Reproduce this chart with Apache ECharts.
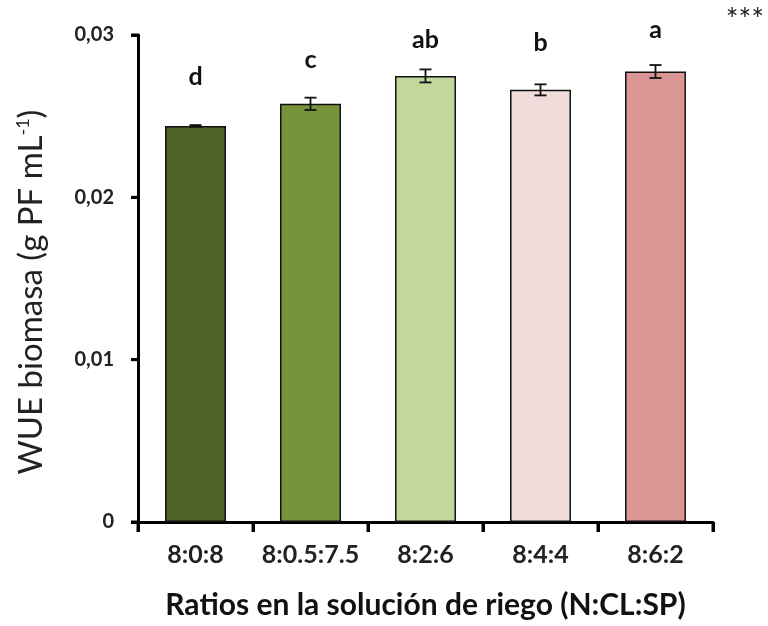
<!DOCTYPE html>
<html><head><meta charset="utf-8">
<script src="https://cdn.jsdelivr.net/npm/echarts@6/dist/echarts.min.js"></script>
<style>html,body{margin:0;padding:0;background:#fff}#c{width:768px;height:626px}</style>
</head><body><div id="c"></div>
<script>
const categories = ['8:0:8', '8:0.5:7.5', '8:2:6', '8:4:4', '8:6:2'];
const values = [0.02440, 0.02576, 0.02748, 0.02662, 0.02775];
const errors = [0.00005, 0.00038, 0.00040, 0.00034, 0.00040];
const letters = ['d', 'c', 'ab', 'b', 'a'];
const letterPos = [0.0274, 0.02846, 0.0297, 0.0295, 0.0303];
const colors = ['#4f6228', '#77933c', '#c4d79b', '#f2dcdb', '#da9694'];
const yTicks = [0, 0.01, 0.02, 0.03];

const chart = echarts.init(document.getElementById('c'), null, {renderer: 'canvas'});
const font = 'Lato, "Open Sans", sans-serif';
const baseGraphic = [
  {id: 'stars', type: 'text', right: 4, top: 5, style: {text: '***', font: '30px ' + font, fill: '#222'}},
  {id: 'ytitle', type: 'text', x: 31, y: 292, rotation: Math.PI / 2, style: {
    text: '{n|WUE biomasa (g PF mL}{s|-1}{n|)}', align: 'center', verticalAlign: 'middle',
    rich: {
      n: {fill: '#222', fontFamily: font, fontSize: 33},
      s: {fill: '#222', fontFamily: font, fontSize: 18, verticalAlign: 'top', padding: [0, 0, 12, 0]}
    }}}
];
chart.setOption({
  animation: false,
  backgroundColor: '#fff',
  grid: {left: 138, right: 55, top: 35, bottom: 104},
  graphic: baseGraphic,
  xAxis: {
    type: 'category', data: categories,
    axisLine: {show: true, onZero: false, lineStyle: {color: '#000', width: 3}},
    axisTick: {show: true, inside: false, interval: 0, length: 10, lineStyle: {color: '#000', width: 3}},
    axisLabel: {color: '#222', fontFamily: font, fontWeight: 'bold', fontSize: 25, margin: 20, interval: 0},
    name: 'Ratios en la solución de riego (N:CL:SP)', nameLocation: 'middle', nameGap: 68,
    nameTextStyle: {color: '#111', fontFamily: font, fontWeight: 'bold', fontSize: 30}
  },
  yAxis: {
    type: 'value', min: 0, max: 0.03, interval: 0.01,
    axisLine: {show: true, onZero: false, lineStyle: {color: '#000', width: 3}},
    axisTick: {show: true, inside: false, length: 7, lineStyle: {color: '#000', width: 3}},
    splitLine: {show: false},
    axisLabel: {color: '#222', fontFamily: font, fontWeight: 'bold', fontSize: 20, margin: 24,
      formatter: v => v === 0 ? '0' : v.toFixed(2).replace('.', ',')}
  },
  series: [
    {type: 'bar', barWidth: '53%',
     data: values.map((v, i) => ({value: v, itemStyle: {color: colors[i]}})),
     itemStyle: {borderColor: '#111', borderWidth: 1.5}},
    {type: 'custom', z: 5,
     data: values.map((v, i) => [i, v - errors[i], v + errors[i]]),
     renderItem: (params, api) => {
       const lo = api.coord([api.value(0), api.value(1)]);
       const hi = api.coord([api.value(0), api.value(2)]);
       const w = 6;
       const st = {stroke: '#111', lineWidth: 1.8};
       return {type: 'group', children: [
         {type: 'line', shape: {x1: lo[0], y1: lo[1], x2: hi[0], y2: hi[1]}, style: st},
         {type: 'line', shape: {x1: lo[0]-w, y1: lo[1], x2: lo[0]+w, y2: lo[1]}, style: st},
         {type: 'line', shape: {x1: hi[0]-w, y1: hi[1], x2: hi[0]+w, y2: hi[1]}, style: st}
       ]};
     }},
    {type: 'custom', z: 6,
     data: letterPos.map((v, i) => [i, v]),
     renderItem: (params, api) => {
       const p = api.coord([api.value(0), api.value(1)]);
       return {type: 'text', x: p[0], y: p[1], style: {
         text: letters[params.dataIndex], font: 'bold 25px ' + font, fill: '#111',
         align: 'center', verticalAlign: 'middle'}};
     }}
  ]
});

// Tick marks placed from the axes' own scales
const px0 = chart.convertToPixel({xAxisIndex: 0}, 0);
const px1 = chart.convertToPixel({xAxisIndex: 0}, 1);
const band = px1 - px0;
const axisX = px0 - band / 2;
const axisY = chart.convertToPixel({yAxisIndex: 0}, 0);
const tickGraphic = [];
for (let k = 0; k <= categories.length; k++) {
  const x = axisX + k * band;
  tickGraphic.push({id: 'xt' + k, type: 'line', z: 100, silent: true,
    shape: {x1: x, y1: axisY, x2: x, y2: axisY + 10}, style: {stroke: '#000', lineWidth: 3}});
}
yTicks.forEach((v, k) => {
  const y = chart.convertToPixel({yAxisIndex: 0}, v);
  tickGraphic.push({id: 'yt' + k, type: 'line', z: 100, silent: true,
    shape: {x1: axisX - 7, y1: y, x2: axisX, y2: y}, style: {stroke: '#000', lineWidth: 3}});
});
chart.setOption({graphic: baseGraphic.concat(tickGraphic)});
</script></body></html>
